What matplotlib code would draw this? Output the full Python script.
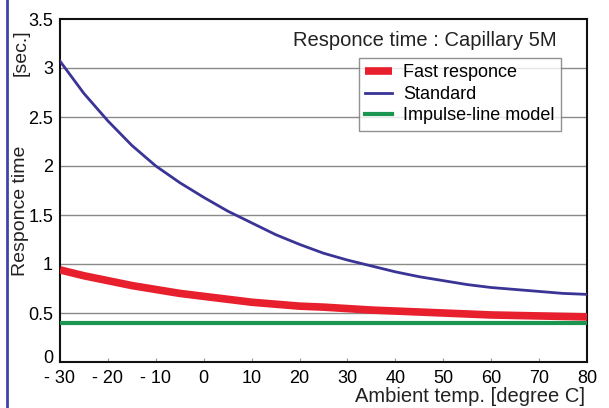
import matplotlib
matplotlib.use("Agg")
import matplotlib.pyplot as plt
import matplotlib.transforms as mtransforms
from matplotlib.lines import Line2D

plt.rcParams["font.family"] = ["Liberation Sans", "DejaVu Sans"]

# ----- Data ----- #
temps = [-30, -25, -20, -15, -10, -5, 0, 5, 10, 15, 20, 25,
         30, 35, 40, 45, 50, 55, 60, 65, 70, 75, 80]
standard = [3.07, 2.74, 2.46, 2.21, 2.00, 1.83, 1.68, 1.54, 1.42, 1.30, 1.20, 1.11,
            1.04, 0.98, 0.92, 0.87, 0.83, 0.79, 0.76, 0.74, 0.72, 0.70, 0.69]
fast = [0.94, 0.88, 0.83, 0.78, 0.74, 0.70, 0.67, 0.64, 0.61, 0.59, 0.57, 0.56,
        0.545, 0.53, 0.52, 0.51, 0.50, 0.49, 0.48, 0.475, 0.47, 0.465, 0.46]
impulse_temps = [-30, 80]
impulse = [0.40, 0.40]

xtick_vals = [-30, -20, -10, 0, 10, 20, 30, 40, 50, 60, 70, 80]
xtick_labels = ["- 30", "- 20", "- 10", "0", "10", "20", "30", "40", "50", "60", "70", "80"]
ytick_vals = [0, 0.5, 1, 1.5, 2, 2.5, 3, 3.5]
ytick_labels = ["0", "0.5", "1", "1.5", "2", "2.5", "3", "3.5"]

RED = "#e8202e"
BLUE = "#3a3496"
GREEN = "#1b9650"

fig = plt.figure(figsize=(6.09, 4.08), dpi=100)
ax = fig.add_axes([60 / 609, 46 / 408, 527 / 609, 343 / 408])

# horizontal grid only
for y in ytick_vals[1:-1]:
    ax.axhline(y, color="#8a8a8a", linewidth=1, zorder=1)

ax.plot(impulse_temps, impulse, color=GREEN, linewidth=3, label="Impulse-line model", zorder=3)
ax.plot(temps, standard, color=BLUE, linewidth=2, label="Standard", zorder=4)
ax.plot(temps, fast, color=RED, linewidth=5.5, label="Fast responce", zorder=3,
        solid_capstyle="butt")

ax.set_xlim(-30, 80)
ax.set_ylim(0, 3.5)
ax.set_xticks(xtick_vals)
ax.set_xticklabels(xtick_labels)
ax.set_yticks(ytick_vals)
ax.set_yticklabels(ytick_labels)
ax.tick_params(axis="x", direction="in", length=3, color="#999999", pad=6, labelsize=13)
ax.tick_params(axis="y", length=0, pad=5, labelsize=13)
# lift the "0" label a few pixels so it does not sit on "- 30"
zero_lbl = ax.get_yticklabels()[0]
zero_lbl.set_transform(zero_lbl.get_transform()
                       + mtransforms.ScaledTranslation(0, 4 / 72, fig.dpi_scale_trans))
for s in ax.spines.values():
    s.set_linewidth(1.5)
    s.set_color("#111111")

# title inside the axes
ax.text(0.943, 0.936, "Responce time : Capillary 5M", transform=ax.transAxes,
        ha="right", va="center", fontsize=14.5, color="#222222")

# legend in the order of the reference
h, l = ax.get_legend_handles_labels()
order = [2, 1, 0]
leg = ax.legend([h[i] for i in order], [l[i] for i in order],
                loc="upper left", bbox_to_anchor=((359 - 60) / 527, (362 - 58) / 343),
                fontsize=13, frameon=True, fancybox=False, handlelength=1.5,
                handletextpad=0.6, labelspacing=0.25, borderpad=0.35, borderaxespad=0)
leg.get_frame().set_edgecolor("#777777")
leg.get_frame().set_linewidth(1)
leg.set_zorder(5)

# axis labels
fig.text(21 / 609, 1 - 211 / 408, "Responce time", rotation=90, ha="center", va="center",
         fontsize=14, color="#222222")
fig.text(21 / 609, 1 - 53 / 408, "[sec.]", rotation=90, ha="center", va="center",
         fontsize=14, color="#222222")
fig.text(585 / 609, 1 - 397 / 408, "Ambient temp. [degree C]", ha="right", va="center",
         fontsize=14.5, color="#222222")

# blue border line on the left of the frame
fig.add_artist(Line2D([7 / 609, 7 / 609], [0, 1], transform=fig.transFigure,
                      color="#3f44a8", linewidth=2))

fig.savefig("out.png", dpi=100)
plt.close(fig)
